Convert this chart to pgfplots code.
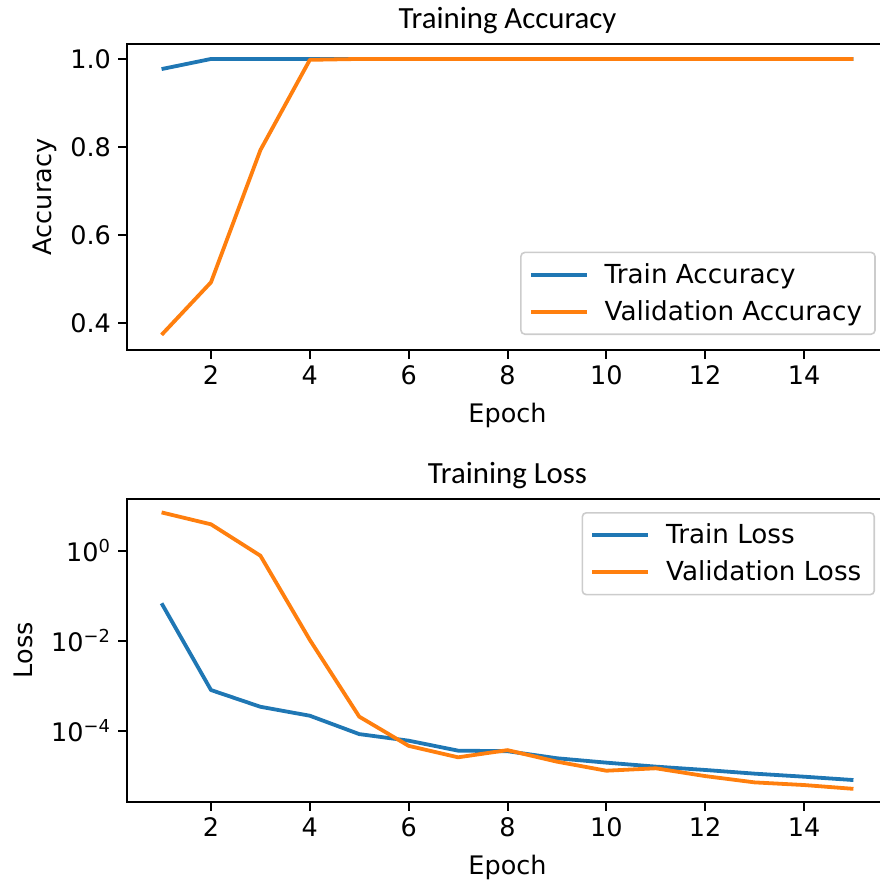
\documentclass[border=0pt]{standalone}
\usepackage{fontspec}
\setmainfont{DejaVu Sans}
\newfontfamily\titlefont{Carlito}
\usepackage{pgfplots}
\pgfplotsset{compat=1.18}

\definecolor{tabblue}{HTML}{1F77B4}
\definecolor{taborange}{HTML}{FF7F0E}

\pgfplotsset{
  mplstyle/.style={
    scale only axis,
    width=380.5pt,
    xmin=0.3, xmax=15.7,
    xtick={2,4,...,14},
    xtick pos=bottom, ytick pos=left,
    tick align=outside,
    major tick length=4.5pt,
    every tick/.style={black, line width=1pt},
    axis line style={black, line width=1pt},
    /pgf/number format/assume math mode=true,
    tick label style={font=\fontsize{12.75}{15}\selectfont},
    label style={font=\fontsize{12.75}{15}\selectfont},
    xlabel style={yshift=-2pt},
    title style={font=\titlefont\fontsize{15.4}{18}\selectfont,
                 at={(0.5,1)}, anchor=base, yshift=1.75pt},
    xlabel={Epoch},
    legend cell align=left,
    legend image code/.code={\draw[#1] (0pt,0pt) -- (28pt,0pt);},
    legend style={font=\fontsize{13.1}{15}\selectfont,
      draw=black!20, line width=0.8pt, rounded corners=2pt,
      fill=white, fill opacity=0.8, text opacity=1,
      inner xsep=4pt, inner ysep=3pt,
      row sep=2pt,
      nodes={inner sep=2.5pt},
      /tikz/every even column/.append style={column sep=4pt},
      /tikz/every odd column/.append style={column sep=5.5pt}},
    every axis plot/.append style={line width=1.9pt, line join=round},
  }
}

\begin{document}
\begin{tikzpicture}
\path[use as bounding box] (0pt,0pt) rectangle (439.5pt,-443pt);

% Accuracy per epoch
\begin{axis}[mplstyle,
  at={(63.5pt,-175pt)}, anchor=south west,
  height=153pt,
  ymin=0.3386, ymax=1.034,
  ytick={0.4,0.6,0.8,1.0},
  yticklabel style={/pgf/number format/.cd, fixed, fixed zerofill, precision=1},
  ylabel={Accuracy},
  title={Training Accuracy},
  legend style={at={(rel axis cs:0.984,0.049)}, anchor=south east},
]
\addplot[tabblue] coordinates {
  (1,0.977) (2,1.0) (3,1.0) (4,1.0) (5,1.0) (6,1.0) (7,1.0) (8,1.0)
  (9,1.0) (10,1.0) (11,1.0) (12,1.0) (13,1.0) (14,1.0) (15,1.0)};
\addlegendentry{Train Accuracy}
\addplot[taborange] coordinates {
  (1,0.373) (2,0.4925) (3,0.793) (4,0.998) (5,1.0) (6,1.0) (7,1.0) (8,1.0)
  (9,1.0) (10,1.0) (11,1.0) (12,1.0) (13,1.0) (14,1.0) (15,1.0)};
\addlegendentry{Validation Accuracy}
\end{axis}

% Loss per epoch, log scale
\begin{axis}[mplstyle,
  at={(63.5pt,-400.85pt)}, anchor=south west,
  height=151.35pt,
  ymode=log,
  ymin=2.64e-6, ymax=14.1,
  ytick={1,1e-2,1e-4},
  yticklabels={10\textsuperscript{0},10\textsuperscript{−2},10\textsuperscript{−4}},
  yminorticks=false,
  ylabel={Loss},
  ylabel style={yshift=2.5pt},
  title={Training Loss},
  legend style={at={(rel axis cs:0.983,0.957)}, anchor=north east},
]
\addplot[tabblue] coordinates {
  (1,0.0678) (2,8.0e-4) (3,3.4e-4) (4,2.15e-4) (5,8.4e-5) (6,6.0e-5)
  (7,3.6e-5) (8,3.5e-5) (9,2.44e-5) (10,1.95e-5) (11,1.59e-5)
  (12,1.34e-5) (13,1.11e-5) (14,9.5e-6) (15,8.0e-6)};
\addlegendentry{Train Loss}
\addplot[taborange] coordinates {
  (1,7.1) (2,3.86) (3,0.774) (4,0.0104) (5,2.05e-4) (6,4.6e-5)
  (7,2.56e-5) (8,3.7e-5) (9,2.05e-5) (10,1.29e-5) (11,1.46e-5)
  (12,9.8e-6) (13,7.1e-6) (14,6.2e-6) (15,5.1e-6)};
\addlegendentry{Validation Loss}
\end{axis}
\end{tikzpicture}
\end{document}
